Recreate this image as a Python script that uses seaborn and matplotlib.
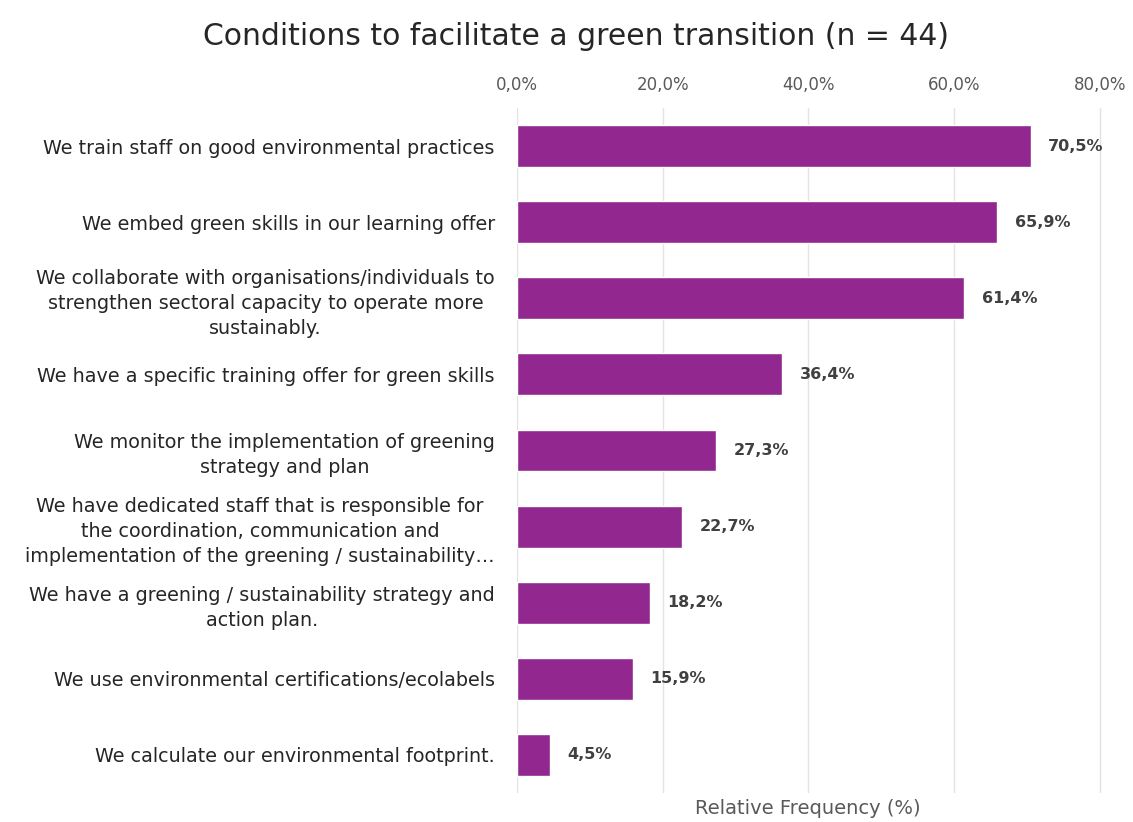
import matplotlib
matplotlib.use("Agg")
import matplotlib.pyplot as plt
import seaborn as sns
import pandas as pd
from matplotlib.ticker import FuncFormatter

categories = [
    "We train staff on good environmental practices",
    "We embed green skills in our learning offer",
    "We collaborate with organisations/individuals to\nstrengthen sectoral capacity to operate more\nsustainably.",
    "We have a specific training offer for green skills",
    "We monitor the implementation of greening\nstrategy and plan",
    "We have dedicated staff that is responsible for\nthe coordination, communication and\nimplementation of the greening / sustainability\u2026",
    "We have a greening / sustainability strategy and\naction plan.",
    "We use environmental certifications/ecolabels",
    "We calculate our environmental footprint.",
]
values = [70.5, 65.9, 61.4, 36.4, 27.3, 22.7, 18.2, 15.9, 4.5]
x_ticks = [0, 20, 40, 60, 80]

title = "Conditions to facilitate a green transition (n = 44)"
x_label = "Relative Frequency (%)"

bar_color = "#92278F"
text_gray = "#595959"
grid_gray = "#E3E3E3"

sns.set_theme(style="white")
plt.rcParams["font.family"] = ["DejaVu Sans"]

df = pd.DataFrame({"condition": categories, "share": values})

fig = plt.figure(figsize=(11.33, 8.22), dpi=100)
ax = fig.add_axes([0.4563, 0.0353, 0.5165, 0.8333])

sns.barplot(data=df, y="condition", x="share", orient="h", color=bar_color,
            width=0.55, saturation=1, ax=ax, zorder=3)

ax.set_xlim(0, 80.3)
ax.set_ylim(len(categories) - 0.5, -0.5)
ax.set_xticks(x_ticks)
ax.xaxis.set_major_formatter(FuncFormatter(lambda v, _: f"{v:.1f}%".replace(".", ",")))
ax.xaxis.tick_top()
ax.tick_params(axis="x", length=0, pad=10, labelsize=12, labelcolor=text_gray)
ax.tick_params(axis="y", length=0, pad=16, labelsize=13.8, labelcolor="#262626")
for lbl in ax.get_yticklabels():
    lbl.set_multialignment("center")
    lbl.set_linespacing(1.4)

ax.grid(axis="x", color=grid_gray, linewidth=1, zorder=0)
ax.grid(axis="y", visible=False)
for spine in ax.spines.values():
    spine.set_visible(False)

ax.set_ylabel("")
ax.set_xlabel("")

for i, v in enumerate(values):
    ax.text(v + 2.4, i, f"{v:.1f}%".replace(".", ","), va="center", ha="left",
            fontsize=11.5, fontweight="bold", color="#404040")

fig.text(0.508, 0.955, title, ha="center", va="center", fontsize=21.5, color="#262626")
fig.text(0.713, 0.017, x_label, ha="center", va="center", fontsize=14, color=text_gray)

fig.savefig("out.png", dpi=100)
